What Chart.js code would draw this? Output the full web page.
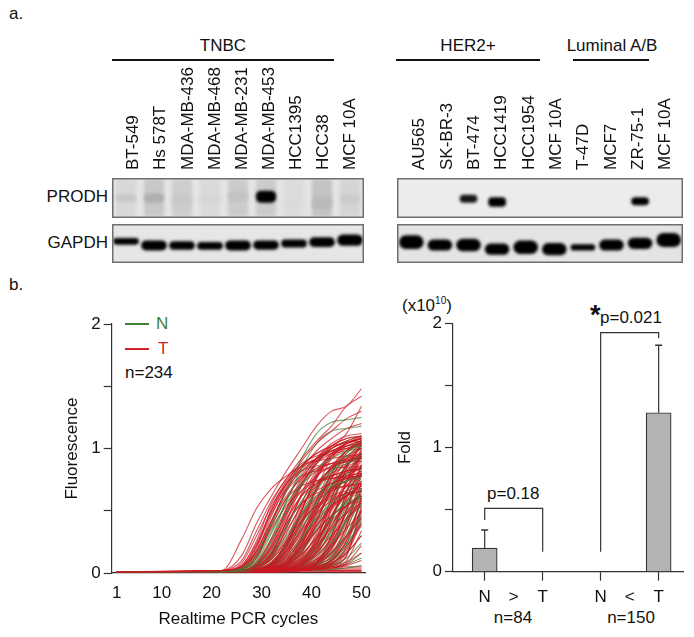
<!DOCTYPE html>
<html>
<head>
<meta charset="utf-8">
<script src="https://cdn.jsdelivr.net/npm/chart.js@4"></script>
<style>
  body { margin: 0; background: #fff; width: 694px; height: 637px; position: relative; overflow: hidden;
         font: 17px "Liberation Sans", Arial, sans-serif; color: #111; }
  canvas { position: absolute; display: block; }
  .t { position: absolute; white-space: nowrap; line-height: 20px; height: 20px; }
  .c { transform: translateX(-50%); }
  .r { transform: translateX(-100%); }
  .rule { position: absolute; background: #111; height: 2px; }
  .key { position: absolute; height: 2px; width: 24px; }
  sup { font-size: 10px; line-height: 0; }
</style>
</head>
<body>
<div class="t" style="left:9px;top:4px">a.</div>
<div class="t" style="left:9px;top:275px">b.</div>

<div class="t c" style="left:223px;top:36px">TNBC</div>
<div class="rule" style="left:112px;top:59px;width:222px"></div>
<div class="t c" style="left:468px;top:36px">HER2+</div>
<div class="rule" style="left:396px;top:59px;width:144px"></div>
<div class="t c" style="left:612px;top:36px">Luminal A/B</div>
<div class="rule" style="left:573px;top:59px;width:76px"></div>
<div class="t r" style="left:108px;top:187px">PRODH</div>
<div class="t r" style="left:108px;top:233px">GAPDH</div>

<div class="key" style="left:125px;top:323px;background:#3f8038"></div>
<div class="t" style="left:156px;top:314px;color:#3f8038">N</div>
<div class="key" style="left:125px;top:348px;background:#d3222a"></div>
<div class="t" style="left:158px;top:339px;color:#d3222a">T</div>
<div class="t" style="left:125px;top:363px">n=234</div>

<div class="t" style="left:402px;top:296px">(x10<sup>10</sup>)</div>
<div class="t" style="left:590px;top:305px;font-size:27px;font-weight:bold">*</div>
<div class="t" style="left:600px;top:308px">p=0.021</div>
<div class="t" style="left:487px;top:484px">p=0.18</div>
<div class="t c" style="left:513px;top:608px">n=84</div>
<div class="t c" style="left:631px;top:608px">n=150</div>

<canvas id="labelsLeft" width="244" height="112" style="left:118px;top:60px"></canvas>
<canvas id="labelsRight" width="273" height="112" style="left:404px;top:60px"></canvas>
<canvas id="prodhLeft" width="252" height="40" style="left:112px;top:178px"></canvas>
<canvas id="gapdhLeft" width="252" height="39" style="left:112px;top:224px"></canvas>
<canvas id="prodhRight" width="286" height="40" style="left:397px;top:178px"></canvas>
<canvas id="gapdhRight" width="286" height="39" style="left:397px;top:224px"></canvas>
<canvas id="curves" width="318" height="327" style="left:62px;top:310px"></canvas>
<canvas id="fold" width="299" height="327" style="left:395px;top:310px"></canvas>

<script>
const lanesLeft = ["BT-549", "Hs 578T", "MDA-MB-436", "MDA-MB-468", "MDA-MB-231", "MDA-MB-453", "HCC1395", "HCC38", "MCF 10A"];
const lanesRight = ["AU565", "SK-BR-3", "BT-474", "HCC1419", "HCC1954", "MCF 10A", "T-47D", "MCF7", "ZR-75-1", "MCF 10A"];

// band edges as a fraction of the panel height, darkness 0-1
const smearLeftDark = [0.07, 0.14, 0.11, 0.06, 0.12, 0.12, 0.05, 0.16, 0.08];
const prodhLeftLow = [0.40, 0.38, 0.30, 0.38, 0.40, 0.38, 0.30, 0.22, 0.34];
const prodhLeftHigh = [0.60, 0.62, 0.56, 0.56, 0.66, 0.68, 0.50, 0.54, 0.60];
const prodhLeftDark = [0.14, 0.24, 0.14, 0.08, 0.16, 1, 0.06, 0.20, 0.12];
const gapdhLeftLow = [0.47, 0.32, 0.34, 0.34, 0.32, 0.34, 0.40, 0.41, 0.44];
const gapdhLeftHigh = [0.64, 0.58, 0.56, 0.54, 0.58, 0.58, 0.60, 0.66, 0.73];

const prodhRightLow = [0, 0, 0.38, 0.28, 0, 0, 0, 0, 0.32, 0];
const prodhRightHigh = [0, 0, 0.58, 0.52, 0, 0, 0, 0, 0.52, 0];
const prodhRightDark = [0, 0, 0.9, 1, 0, 0, 0, 0, 1, 0];
const gapdhRightLow = [0.36, 0.32, 0.30, 0.21, 0.23, 0.20, 0.32, 0.32, 0.36, 0.41];
const gapdhRightHigh = [0.71, 0.60, 0.62, 0.50, 0.58, 0.51, 0.48, 0.60, 0.65, 0.77];

const cycleColumns = [1, 22, 26, 29, 32, 35, 38, 41, 44, 47, 50];
const cycleTicks = [1, 10, 20, 30, 40, 50];
const fluorescenceTicks = [0, 0.5, 1, 1.5, 2];

const curvesT = [
  [.01,.02,.14,.40,.62,.82,1.00,1.18,1.30,1.34,1.48],
  [.01,.02,.10,.34,.58,.76,.92,1.06,1.18,1.34,1.42],
  [.01,.02,.27,.52,.68,.78,.86,.92,.98,1.04,1.08],
  [.01,.02,.08,.30,.54,.72,.86,.96,1.02,1.12,1.34],
  [.01,.01,.06,.24,.50,.72,.90,1.04,1.14,1.24,1.30],
  [.01,.01,.05,.18,.42,.66,.84,.98,1.08,1.16,1.20],
  [.01,.02,.05,.22,.48,.68,.82,.92,1.00,1.05,1.08],
  [.01,.02,.04,.18,.42,.62,.76,.84,.88,.92,.94],
  [.01,.02,.04,.16,.38,.60,.78,.92,1.02,1.08,1.10],
  [.01,.01,.03,.14,.36,.54,.66,.74,.78,.82,.84],
  [.01,.01,.03,.09,.28,.52,.72,.88,1.00,1.06,1.10],
  [.01,.01,.02,.08,.26,.48,.66,.78,.86,.90,.92],
  [.01,.01,.02,.07,.22,.44,.62,.72,.78,.82,.84],
  [.01,.01,.02,.07,.24,.50,.74,.92,1.04,1.10,1.12],
  [.01,.01,.02,.06,.20,.40,.56,.66,.72,.76,.78],
  [.01,.01,.02,.05,.16,.38,.62,.82,.96,1.04,1.08],
  [.01,.01,.02,.05,.15,.34,.54,.70,.80,.86,.90],
  [.01,.01,.02,.04,.13,.32,.56,.78,.94,1.02,1.06],
  [.01,.01,.02,.04,.12,.28,.46,.60,.68,.74,.78],
  [.01,.01,.02,.04,.11,.26,.42,.54,.62,.66,.70],
  [.01,.01,.02,.04,.14,.36,.64,.88,1.02,1.08,1.10],
  [.01,.01,.01,.03,.09,.24,.46,.68,.84,.94,1.00],
  [.01,.01,.01,.03,.08,.22,.42,.60,.74,.82,.86],
  [.01,.01,.01,.03,.08,.24,.50,.76,.94,1.04,1.08],
  [.01,.01,.01,.03,.07,.18,.34,.48,.58,.64,.68],
  [.01,.01,.01,.03,.06,.16,.32,.52,.68,.78,.84],
  [.01,.01,.01,.02,.06,.18,.40,.66,.86,.98,1.04],
  [.01,.01,.01,.02,.05,.14,.34,.58,.78,.92,1.00],
  [.01,.01,.01,.02,.05,.13,.30,.50,.66,.76,.82],
  [.01,.01,.01,.02,.05,.12,.26,.42,.54,.62,.66],
  [.01,.01,.01,.02,.05,.15,.38,.68,.92,1.04,1.09],
  [.01,.01,.01,.02,.04,.10,.24,.46,.66,.82,.94],
  [.01,.01,.01,.02,.04,.10,.22,.38,.52,.62,.70],
  [.01,.01,.01,.02,.04,.11,.28,.54,.80,.98,1.06],
  [.01,.01,.01,.02,.04,.09,.20,.34,.46,.54,.58],
  [.01,.01,.01,.02,.03,.08,.20,.42,.66,.86,.98],
  [.01,.01,.01,.02,.03,.07,.17,.34,.54,.70,.82],
  [.01,.01,.01,.02,.03,.08,.22,.48,.76,.96,1.05],
  [.01,.01,.01,.01,.03,.07,.15,.28,.42,.54,.62],
  [.01,.01,.01,.01,.03,.06,.14,.30,.52,.74,.90],
  [.01,.01,.01,.01,.03,.05,.12,.26,.46,.66,.80],
  [.01,.01,.01,.01,.02,.05,.13,.32,.60,.86,1.02],
  [.01,.01,.01,.01,.02,.05,.11,.22,.36,.48,.56],
  [.01,.01,.01,.01,.02,.04,.10,.24,.46,.72,.94],
  [.01,.01,.01,.01,.02,.04,.09,.20,.38,.58,.74],
  [.01,.01,.01,.01,.02,.04,.11,.28,.56,.84,1.03],
  [.01,.01,.01,.01,.02,.04,.08,.17,.30,.44,.54],
  [.01,.01,.01,.01,.02,.03,.07,.16,.34,.60,.86],
  [.01,.01,.01,.01,.02,.03,.06,.14,.28,.48,.66],
  [.01,.01,.01,.01,.02,.03,.07,.18,.42,.74,1.00],
  [.01,.01,.01,.01,.02,.03,.05,.11,.22,.36,.48],
  [.01,.01,.01,.01,.01,.03,.05,.10,.24,.50,.80],
  [.01,.01,.01,.01,.01,.02,.05,.09,.20,.40,.62],
  [.01,.01,.01,.01,.01,.02,.05,.12,.30,.64,.96],
  [.01,.01,.01,.01,.01,.02,.04,.08,.16,.30,.44],
  [.01,.01,.01,.01,.01,.02,.04,.07,.16,.38,.72],
  [.01,.01,.01,.01,.01,.02,.03,.06,.13,.28,.52],
  [.01,.01,.01,.01,.01,.02,.03,.08,.20,.50,.88],
  [.01,.01,.01,.01,.01,.02,.03,.05,.10,.22,.38],
  [.01,.01,.01,.01,.01,.02,.03,.05,.10,.26,.60],
  [.01,.01,.01,.01,.01,.02,.03,.05,.08,.18,.42],
  [.01,.01,.01,.01,.01,.02,.03,.04,.07,.16,.30],
  [.01,.01,.01,.01,.01,.02,.02,.04,.06,.14,.50],
  [.01,.01,.01,.01,.01,.02,.02,.03,.05,.10,.34],
  [.01,.01,.01,.01,.01,.01,.02,.03,.05,.08,.22],
  [.01,.01,.01,.01,.01,.01,.02,.03,.04,.07,.16],
  [.01,.01,.01,.01,.01,.01,.02,.03,.04,.06,.10],
  [.01,.02,.06,.26,.56,.76,.88,.94,.98,1.00,1.02],
  [.01,.02,.05,.22,.52,.74,.86,.90,.92,.94,.95],
  [.01,.01,.04,.20,.50,.72,.82,.86,.88,.89,.90],
  [.01,.01,.04,.17,.46,.70,.84,.92,.96,.98,1.00],
  [.01,.01,.03,.14,.42,.66,.78,.82,.84,.85,.86],
  [.01,.01,.03,.12,.38,.60,.70,.74,.76,.77,.78],
  [.01,.01,.03,.12,.40,.68,.86,.96,1.02,1.05,1.06],
  [.01,.01,.02,.06,.22,.52,.76,.90,.98,1.02,1.04],
  [.01,.01,.02,.06,.20,.48,.70,.82,.88,.91,.92],
  [.01,.01,.02,.05,.18,.46,.72,.88,.96,1.00,1.03],
  [.01,.01,.02,.05,.16,.42,.62,.72,.76,.78,.80],
  [.01,.01,.02,.05,.16,.40,.56,.64,.68,.70,.71],
  [.01,.01,.02,.04,.14,.42,.70,.90,1.00,1.05,1.08],
  [.01,.01,.01,.03,.08,.26,.56,.80,.94,1.02,1.06],
  [.01,.01,.01,.03,.08,.24,.52,.72,.84,.90,.93],
  [.01,.01,.01,.03,.07,.22,.50,.76,.92,1.00,1.04],
  [.01,.01,.01,.03,.07,.20,.44,.62,.72,.76,.78],
  [.01,.01,.01,.03,.06,.18,.40,.58,.66,.70,.72],
  [.01,.01,.01,.02,.06,.20,.50,.78,.96,1.04,1.08],
  [.01,.01,.01,.02,.06,.18,.42,.68,.84,.92,.96],
  [.01,.01,.01,.02,.05,.16,.36,.52,.60,.64,.66],
  [.01,.01,.01,.02,.04,.08,.28,.58,.84,.98,1.05],
  [.01,.01,.01,.02,.04,.08,.26,.54,.76,.88,.93],
  [.01,.01,.01,.02,.04,.08,.24,.50,.70,.80,.84],
  [.01,.01,.01,.02,.03,.07,.22,.52,.80,.98,1.07],
  [.01,.01,.01,.02,.03,.07,.20,.44,.64,.74,.78],
  [.01,.01,.01,.02,.03,.06,.18,.42,.68,.86,.96],
  [.01,.01,.01,.02,.03,.06,.18,.38,.54,.62,.66],
  [.01,.01,.01,.02,.03,.06,.16,.40,.70,.92,1.04],
  [.01,.01,.01,.01,.02,.04,.09,.28,.60,.88,1.03],
  [.01,.01,.01,.01,.02,.04,.09,.26,.56,.80,.92],
  [.01,.01,.01,.01,.02,.04,.08,.24,.50,.70,.80],
  [.01,.01,.01,.01,.02,.04,.08,.22,.46,.62,.70],
  [.01,.01,.01,.01,.02,.03,.07,.22,.52,.84,1.02],
  [.01,.01,.01,.01,.02,.03,.07,.20,.44,.66,.78],
  [.01,.01,.01,.01,.02,.03,.06,.18,.38,.54,.62],
  [.01,.01,.01,.01,.02,.03,.06,.16,.42,.74,.96],
  [.01,.01,.01,.01,.02,.02,.04,.09,.30,.66,.98],
  [.01,.01,.01,.01,.02,.02,.04,.09,.28,.60,.86],
  [.01,.01,.01,.01,.02,.02,.04,.08,.26,.54,.74],
  [.01,.01,.01,.01,.02,.02,.04,.08,.24,.48,.64],
  [.01,.01,.01,.01,.01,.02,.03,.07,.22,.52,.82],
  [.01,.01,.01,.01,.01,.02,.03,.07,.20,.42,.58],
  [.01,.01,.01,.01,.01,.02,.03,.06,.18,.44,.72],
  [.01,.01,.01,.01,.01,.02,.03,.05,.12,.38,.80],
  [.01,.01,.01,.01,.01,.02,.03,.05,.11,.34,.68],
  [.01,.01,.01,.01,.01,.02,.03,.05,.10,.30,.58],
  [.01,.01,.01,.01,.01,.02,.03,.04,.09,.26,.50],
  [.01,.01,.01,.01,.01,.02,.02,.04,.08,.22,.62],
  [.01,.01,.01,.01,.01,.02,.02,.04,.07,.20,.46],
  [.01,.01,.01,.01,.01,.02,.02,.04,.06,.16,.40],
  [.01,.01,.01,.01,.01,.02,.02,.03,.06,.14,.54],
  [.01,.01,.02,.02,.03,.03,.03,.04,.04,.05,.05],
  [.01,.01,.01,.02,.02,.02,.03,.03,.03,.04,.04],
  [.01,.01,.01,.01,.02,.02,.02,.02,.03,.03,.03],
  [.01,.01,.02,.03,.03,.04,.03,.03,.02,.02,.02],
  [.01,.01,.01,.01,.01,.01,.02,.02,.02,.02,.02],
  [.01,.01,.01,.01,.01,.01,.01,.01,.01,.01,.01],
  [.00,.01,.01,.01,.01,.01,.01,.01,.01,.01,.01],
];

const curvesN = [
  [.01,.01,.04,.15,.40,.66,.92,1.12,1.21,1.23,1.25],
  [.01,.01,.03,.10,.32,.58,.84,1.04,1.14,1.16,1.18],
  [.01,.01,.03,.12,.34,.56,.72,.84,.92,.98,1.02],
  [.01,.01,.02,.08,.26,.50,.70,.88,1.00,1.06,1.10],
  [.01,.01,.02,.06,.18,.38,.58,.72,.82,.88,.92],
  [.01,.01,.02,.05,.14,.30,.48,.62,.70,.74,.78],
  [.01,.01,.01,.04,.11,.26,.46,.66,.82,.94,1.02],
  [.01,.01,.01,.03,.09,.22,.40,.56,.68,.74,.78],
  [.01,.01,.01,.03,.07,.18,.36,.58,.80,.96,1.06],
  [.01,.01,.01,.02,.06,.14,.28,.44,.56,.64,.68],
  [.01,.01,.01,.02,.05,.12,.26,.48,.70,.86,.96],
  [.01,.01,.01,.02,.04,.10,.20,.34,.46,.56,.62],
  [.01,.01,.01,.02,.04,.08,.18,.36,.58,.80,.94],
  [.01,.01,.01,.02,.03,.07,.15,.28,.44,.58,.66],
  [.01,.01,.01,.02,.03,.06,.12,.24,.44,.66,.84],
  [.01,.01,.01,.01,.02,.05,.10,.20,.34,.50,.62],
  [.01,.01,.01,.01,.02,.04,.08,.16,.32,.56,.80],
  [.01,.01,.01,.01,.02,.03,.07,.14,.26,.42,.56],
  [.01,.01,.01,.01,.02,.03,.06,.11,.22,.42,.68],
  [.01,.01,.01,.01,.02,.03,.05,.09,.17,.30,.46],
  [.01,.01,.01,.01,.01,.03,.04,.08,.15,.30,.56],
  [.01,.01,.01,.01,.01,.02,.04,.07,.12,.24,.40],
  [.01,.01,.01,.01,.01,.02,.03,.06,.10,.20,.44],
  [.01,.01,.01,.01,.01,.02,.03,.05,.08,.16,.30],
  [.01,.01,.01,.01,.01,.02,.03,.04,.07,.12,.24],
  [.01,.01,.01,.01,.01,.02,.02,.04,.06,.09,.16],
  [.01,.01,.01,.01,.01,.01,.02,.03,.05,.07,.12],
  [.01,.01,.01,.01,.01,.01,.02,.02,.03,.04,.06],
  [.01,.01,.02,.07,.28,.58,.80,.92,.98,1.02,1.04],
  [.01,.01,.01,.04,.12,.36,.62,.78,.86,.90,.92],
  [.01,.01,.01,.03,.07,.22,.48,.70,.84,.90,.94],
  [.01,.01,.01,.02,.04,.10,.30,.56,.72,.80,.84],
  [.01,.01,.01,.02,.03,.06,.16,.38,.62,.78,.86],
  [.01,.01,.01,.01,.02,.04,.08,.20,.40,.54,.60],
  [.01,.01,.01,.01,.02,.03,.06,.14,.36,.62,.76],
  [.01,.01,.01,.01,.01,.02,.04,.08,.22,.44,.66],
  [.01,.01,.01,.01,.01,.02,.03,.06,.14,.36,.60],
  [.01,.01,.01,.01,.01,.02,.03,.05,.10,.24,.50],
];

const foldPositions = [1, 2, 3, 5, 6, 7];
const foldLabels = ["N", ">", "T", "N", "<", "T"];
const barPositions = [1, 3, 5, 7];
const barValues = [0.19, 0, 0, 1.28];
const errorUpper = [0.335, null, null, 1.823];
const foldTicks = [0, 0.5, 1, 1.5, 2];
const bracketLeftX = [1, 1, 3, 3];
const bracketLeftY = [0.416, 0.51, 0.51, 0.16];
const bracketRightX = [5, 5, 7, 7];
const bracketRightY = [0.16, 1.925, 1.925, 1.88];

const FONT = { family: "'Liberation Sans', Arial, sans-serif", size: 17 };
const INK = "#111";

Chart.defaults.animation = false;
Chart.defaults.responsive = false;
Chart.defaults.font.family = FONT.family;
Chart.defaults.plugins.legend.display = false;
Chart.defaults.plugins.tooltip.enabled = false;

// keeps the plot area where the reference has it, whatever the labels measure
function fixSize(key, size) {
  return scale => {
    scale[key] = size;
    scale.paddingLeft = scale.paddingRight = scale.paddingTop = scale.paddingBottom = 0;
  };
}

function laneLabels(id, lanes) {
  const el = document.getElementById(id);
  new Chart(el, {
    type: "bar",
    data: { labels: lanes, datasets: [] },
    options: {
      scales: {
        x: {
          position: "top",
          offset: true,
          afterFit: fixSize("height", el.height - 2),
          border: { display: false },
          grid: { display: false, drawTicks: false },
          ticks: { minRotation: 90, maxRotation: 90, autoSkip: false, padding: 0, labelOffset: 22.5, color: INK, font: FONT }
        },
        y: { display: false }
      }
    }
  });
}

const blotPlugin = {
  id: "blot",
  beforeDraw(chart) {
    const ctx = chart.ctx;
    ctx.fillStyle = chart.options.plugins.blot.paper;
    ctx.fillRect(0, 0, chart.width, chart.height);
  },
  beforeDatasetsDraw(chart) {
    chart.ctx.save();
    chart.ctx.filter = "blur(1.5px)";
  },
  afterDatasetsDraw(chart) {
    chart.ctx.restore();
    const ctx = chart.ctx;
    ctx.strokeStyle = "#6f6f6f";
    ctx.lineWidth = 1.5;
    ctx.strokeRect(0.75, 0.75, chart.width - 1.5, chart.height - 1.5);
  }
};

function grey(dark) {
  const v = Math.round(232 * (1 - dark));
  return "rgb(" + v + "," + v + "," + v + ")";
}

// first layer in the list is painted last, so the sharp bands go first
function blot(id, lanes, paper, layers) {
  new Chart(document.getElementById(id), {
    type: "bar",
    plugins: [blotPlugin],
    data: {
      labels: lanes,
      datasets: layers.map(l => ({
        data: lanes.map((_, i) => [l.low[i], l.high[i]]),
        backgroundColor: lanes.map((_, i) => grey(l.dark[i])),
        borderRadius: l.round,
        borderSkipped: false,
        barPercentage: l.width,
        categoryPercentage: 1,
        grouped: false
      }))
    },
    options: {
      plugins: { blot: { paper: paper } },
      scales: { x: { display: false }, y: { display: false, min: 0, max: 1 } }
    }
  });
}

const flat = lanes => lanes.map(() => 1);

laneLabels("labelsLeft", lanesLeft);
laneLabels("labelsRight", lanesRight);

blot("prodhLeft", lanesLeft, "#e4e4e4", [
  { low: prodhLeftLow, high: prodhLeftHigh, dark: prodhLeftDark, round: 5, width: 0.72 },
  { low: lanesLeft.map(() => 0.03), high: lanesLeft.map(() => 0.97), dark: smearLeftDark, round: 3, width: 0.72 }
]);
blot("gapdhLeft", lanesLeft, "#e6e6e6", [
  { low: gapdhLeftLow, high: gapdhLeftHigh, dark: flat(lanesLeft), round: 8, width: 0.92 }
]);
blot("prodhRight", lanesRight, "#ececec", [
  { low: prodhRightLow, high: prodhRightHigh, dark: prodhRightDark, round: 4, width: 0.62 }
]);
blot("gapdhRight", lanesRight, "#e4e4e4", [
  { low: gapdhRightLow, high: gapdhRightHigh, dark: flat(lanesRight), round: 9, width: 0.86 }
]);

function curveSet(rows, color) {
  return rows.map(row => ({
    data: row.map((y, i) => ({ x: cycleColumns[i], y: y })),
    borderColor: color,
    borderWidth: 1.1,
    pointRadius: 0,
    cubicInterpolationMode: "monotone"
  }));
}

const setT = curveSet(curvesT, "rgba(204,24,34,0.72)");
const setN = curveSet(curvesN, "rgba(60,130,56,0.72)");
const curveDatasets = [];
setT.forEach((d, i) => {
  curveDatasets.push(d);
  if (i % 3 === 1 && setN[(i - 1) / 3]) curveDatasets.push(setN[(i - 1) / 3]);
});

new Chart(document.getElementById("curves"), {
  type: "line",
  data: { datasets: curveDatasets },
  options: {
    layout: { padding: { top: 14, right: 15 } },
    scales: {
      x: {
        type: "linear",
        min: 0,
        max: 50.7,
        afterBuildTicks: axis => { axis.ticks = cycleTicks.map(v => ({ value: v })); },
        afterFit: fixSize("height", 64),
        border: { color: "#333", width: 1.2 },
        grid: { display: false },
        ticks: { color: INK, font: FONT, padding: 2, maxRotation: 0, autoSkip: false },
        title: { display: true, text: "Realtime PCR cycles", color: INK, font: FONT, padding: { top: 0, bottom: 7 } }
      },
      y: {
        min: 0,
        max: 2,
        afterBuildTicks: axis => { axis.ticks = fluorescenceTicks.map(v => ({ value: v })); },
        afterFit: fixSize("width", 49.7),
        border: { color: "#333", width: 1.2 },
        grid: { drawOnChartArea: false, tickLength: 8, tickColor: "#333", tickWidth: 1.2 },
        ticks: { color: INK, font: FONT, padding: 3, autoSkip: false, callback: v => (Number.isInteger(v) ? v : "") },
        title: { display: true, text: "Fluorescence", color: INK, font: FONT, padding: { top: 0, bottom: 0 } }
      }
    }
  }
});

function straight(xs, ys) {
  return {
    type: "line",
    data: xs.map((x, i) => ({ x: x, y: ys[i] })),
    borderColor: "#333",
    borderWidth: 1.2,
    pointRadius: 0,
    tension: 0
  };
}

function errorBar(i) {
  return {
    type: "line",
    data: [{ x: barPositions[i], y: barValues[i] }, { x: barPositions[i], y: errorUpper[i] }],
    borderColor: "#333",
    borderWidth: 1.2,
    pointStyle: "line",
    pointRadius: [0, 3.5],
    pointBorderColor: "#333",
    pointBorderWidth: 1.5
  };
}

new Chart(document.getElementById("fold"), {
  type: "bar",
  data: {
    datasets: [
      {
        data: barPositions.map((x, i) => ({ x: x, y: barValues[i] })),
        backgroundColor: "#b3b3b3",
        borderColor: "#333",
        borderWidth: 1.2,
        barThickness: 25,
        order: 2
      },
      errorBar(0),
      errorBar(3),
      straight(bracketLeftX, bracketLeftY),
      straight(bracketRightX, bracketRightY)
    ]
  },
  options: {
    layout: { padding: { top: 13.3, right: 11 } },
    scales: {
      x: {
        type: "linear",
        offset: false,
        min: -0.093,
        max: 7.84,
        afterBuildTicks: axis => { axis.ticks = foldPositions.map(v => ({ value: v })); },
        afterFit: fixSize("height", 65.3),
        border: { color: "#333", width: 1.2 },
        grid: {
          offset: false,
          drawOnChartArea: false,
          tickLength: 9,
          tickWidth: 1.2,
          tickColor: c => (c.tick && barPositions.includes(c.tick.value) ? "#333" : "rgba(0,0,0,0)")
        },
        ticks: {
          color: INK,
          font: FONT,
          padding: 6,
          maxRotation: 0,
          autoSkip: false,
          callback: v => foldLabels[foldPositions.indexOf(v)]
        }
      },
      y: {
        min: 0,
        max: 2,
        afterBuildTicks: axis => { axis.ticks = foldTicks.map(v => ({ value: v })); },
        afterFit: fixSize("width", 58),
        border: { color: "#333", width: 1.2 },
        grid: { drawOnChartArea: false, tickLength: 8, tickColor: "#333", tickWidth: 1.2 },
        ticks: { color: INK, font: FONT, padding: 3, autoSkip: false, callback: v => (Number.isInteger(v) ? v : "") },
        title: { display: true, text: "Fold", color: INK, font: FONT, padding: { top: 0, bottom: 0 } }
      }
    }
  }
});
</script>
</body>
</html>
